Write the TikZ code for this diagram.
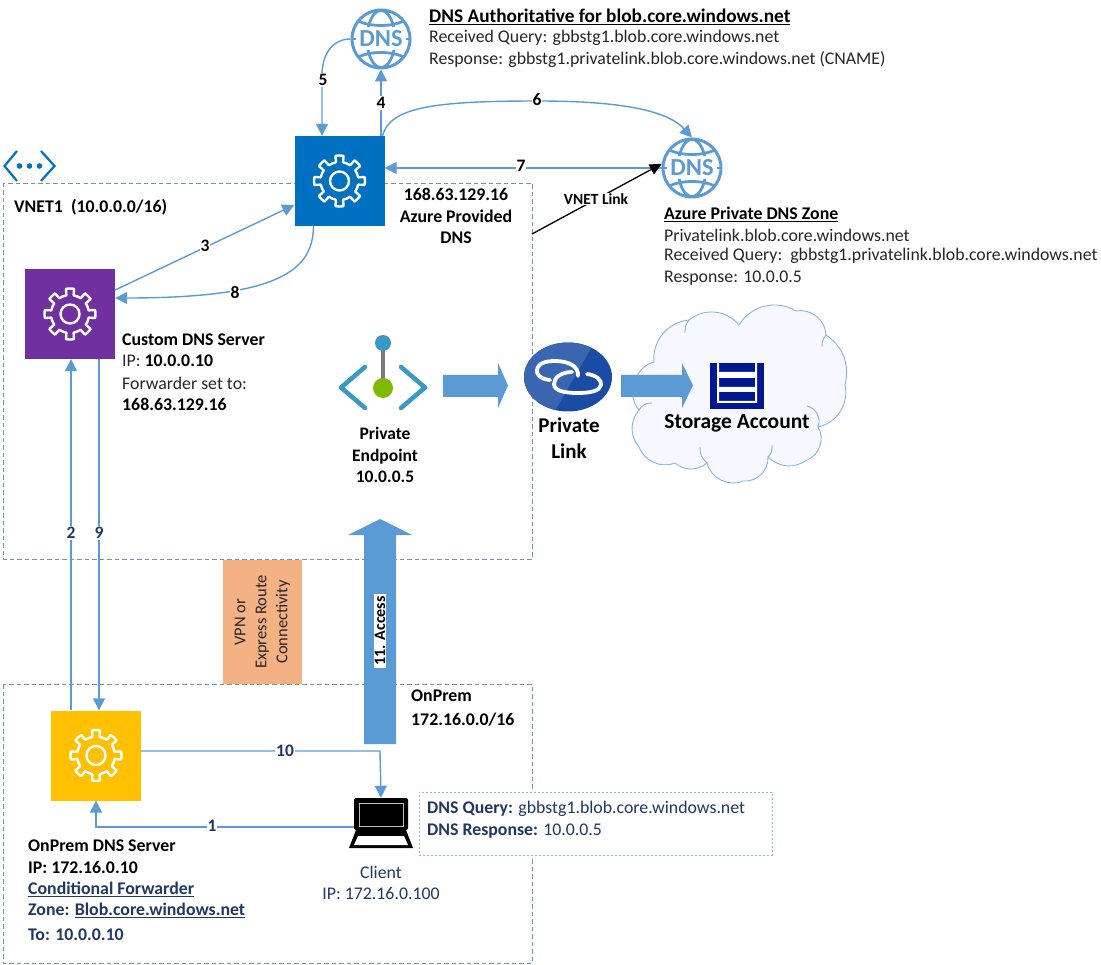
\documentclass[tikz,border=0pt]{standalone}
\usepackage{fontspec}
\setmainfont{Carlito}
\usetikzlibrary{arrows.meta,calc,shapes.geometric}
\definecolor{lineblue}{HTML}{5B9BD5}
\definecolor{azureblue}{HTML}{0070C0}
\definecolor{dnspurple}{HTML}{7030A0}
\definecolor{dnsyellow}{HTML}{FFC000}
\definecolor{navy}{HTML}{1F3864}
\definecolor{dashblue}{HTML}{6F93B5}
\definecolor{orangebox}{HTML}{F4B183}
\definecolor{linkblue}{HTML}{1A4BA5}
\definecolor{linklight}{HTML}{3A65B0}
\definecolor{storeblue}{HTML}{00188F}
\definecolor{pecyan}{HTML}{3999C6}
\definecolor{pegreen}{HTML}{7FBA00}
\definecolor{pegray}{HTML}{7A7A7A}
\newcommand{\geargfx}[2]{%
  \begin{scope}[shift={(#1,#2)},y=1pt,white,line width=2.4pt,line join=round,line cap=round]
    \foreach \a in {0,45,...,315}{
      \draw ({\a-22.5}:19) arc[start angle=\a-22.5,end angle=\a-11,radius=19]
        -- ({\a-9}:25.5) arc[start angle=\a-9,end angle=\a+9,radius=25.5]
        -- ({\a+11}:19) arc[start angle=\a+11,end angle=\a+22.5,radius=19];
    }
    \draw (0,0) circle[radius=9.5];
  \end{scope}}
\newcommand{\globegfx}[2]{%
  \begin{scope}[shift={(#1,#2)},y=1pt,lineblue,line width=2.8pt]
    \draw (0,0) ellipse[x radius=14,y radius=28.5];
    \draw (-23,18) .. controls (-10,12) and (10,12) .. (23,18);
    \draw (-23,-18) .. controls (-10,-12) and (10,-12) .. (23,-18);
    \fill[white] (-24.5,-11.5) rectangle (24.5,11.5);
    \draw (-29,0) -- (-25,0);
    \draw (29,0) -- (25,0);
  \end{scope}}
\tikzset{
  flow/.style={draw=lineblue,line width=1.4pt,-{Triangle[width=12pt,length=12pt]}},
  flowplain/.style={draw=lineblue,line width=1.4pt},
  boundary/.style={draw=dashblue,line width=0.9pt,dash pattern=on 4.5pt off 3pt},
  fatarrow/.style={fill=lineblue,draw=none},
  iconbox/.style={minimum width=90pt,minimum height=90pt,inner sep=0pt,draw=none},
  stepnum/.style={font=\fontsize{17.5}{17.5}\selectfont\bfseries,fill=white,inner sep=1pt,text=black},
  stepnavy/.style={stepnum,text=navy},
  info/.style={anchor=west,inner sep=0pt,font=\fontsize{17.8}{17.8}\selectfont,text=black!85},
  infobold/.style={info,font=\fontsize{17.8}{17.8}\selectfont\bfseries,text=black},
  infonavy/.style={info,text=navy},
  infonavybold/.style={infonavy,font=\fontsize{17.8}{17.8}\selectfont\bfseries},
  center block/.style={inner sep=0pt,align=center,font=\fontsize{17.8}{21.5}\selectfont\bfseries,text=black},
  globenode/.style={circle,draw=lineblue,line width=3pt,minimum size=58pt,inner sep=0pt},
  dnstext/.style={text=lineblue,inner sep=0pt,font=\fontsize{24.5}{24.5}\selectfont\bfseries},
  cloudline/.style={draw=lineblue!75,line width=0.9pt},
}
\begin{document}
\begin{tikzpicture}[x=1pt,y=-1pt]
\useasboundingbox (0,0) rectangle (1101,965);

% boundaries
\draw[boundary] (3,183) rectangle (532,559);
\draw[boundary] (3,684) rectangle (532,963);

% vnet icon
\begin{scope}[draw=azureblue,line width=2.2pt]
  \draw (17,151) -- (4.5,166) -- (17,181);
  \draw (41,151) -- (54.5,166) -- (41,181);
  \fill[azureblue] (19.5,166) circle[radius=2.8] (29.5,166) circle[radius=2.8] (39.5,166) circle[radius=2.8];
\end{scope}

% cloud
\draw[cloudline,fill=blue!3]
  (654,362) to[bend left=45] (689,320) to[bend left=45] (739,325) to[bend left=45] (796,311)
  to[bend left=50] (826,335) to[bend left=35] (845,385) to[bend left=45] (818,427)
  to[bend left=50] (807,460) to[bend left=40] (768,457) to[bend left=50] (743,481)
  to[bend left=50] (707,463) to[bend left=40] (675,463) to[bend left=45] (639,447)
  to[bend left=40] (639,410) to[bend left=60] (654,362) -- cycle;
\draw[cloudline] (807,406) to[bend left=50] (818,427);
\draw[cloudline] (639,410) to[bend left=30] (652,403);
\draw[cloudline] (707,463) to[bend left=25] (700,447);
\draw[cloudline] (768,457) to[bend right=25] (772,445);
\draw[cloudline] (826,335) to[bend right=20] (822,347);
\draw[cloudline] (689,320) to[bend right=20] (685,333);

% orange box
\node[fill=orangebox,minimum width=79pt,minimum height=124pt,inner sep=0pt] (vpnbox) at (262.5,622) {};
\node[rotate=90,align=center,inner sep=0pt,font=\fontsize{16.5}{21}\selectfont,text=black!85] (vpntext) at (262.5,622) {VPN or\\Express Route\\Connectivity};

% service boxes
\node[iconbox,fill=azureblue] (azdns) at (339.5,181) {};
\node[iconbox,fill=dnspurple] (custom) at (70,314) {};
\node[iconbox,fill=dnsyellow] (onpremdns) at (96,755.5) {};
\geargfx{339.5}{181}
\geargfx{70}{314}
\geargfx{96}{755.5}

% globes
\node[globenode] (authdns) at (381,39) {};
\globegfx{381}{39}
\node[dnstext] (authlabel) at (381,39) {DNS};
\node[globenode] (zonedns) at (692,168) {};
\globegfx{692}{168}
\node[dnstext] (zonelabel) at (692,168) {DNS};

% private endpoint icon
\draw[draw=pegray,line width=4pt] (383,343) -- (383,388);
\fill[fill=pecyan] (383,343) circle[radius=8];
\fill[fill=pegreen] (383,388) circle[radius=10];
\draw[draw=pecyan,line width=4.5pt,line cap=round,line join=round] (365,367) -- (341,387.5) -- (365,408);
\draw[draw=pecyan,line width=4.5pt,line cap=round,line join=round] (401,367) -- (425,387.5) -- (401,408);

% private link
\node[ellipse,fill=linkblue,minimum width=88pt,minimum height=69pt,inner sep=0pt] (plink) at (568,377) {};
\begin{scope}
  \clip (520,340) -- (596,340) -- (553,414) -- (520,414) -- cycle;
  \fill[linklight] (568,377) ellipse[x radius=44,y radius=34.5];
\end{scope}
\draw[white,line width=3.8pt,line cap=round] (550,380) .. controls (540,379) and (536,374) .. (537,370) .. controls (538,363) and (546,361) .. (555,361) .. controls (568,361) and (579,366) .. (578,376);
\draw[white,line width=3.8pt,line cap=round] (587,374) .. controls (596,375) and (602,380) .. (601,385) .. controls (600,391) and (590,393) .. (578,393) .. controls (565,393) and (554,391) .. (554,384) .. controls (554,377) and (562,372) .. (572,372);

% storage icon
\node[minimum width=54pt,minimum height=46pt,inner sep=0pt,fill=storeblue] (storage) at (737,386) {};
\fill[white] (717,363) rectangle (719,403) (755,363) rectangle (757,403) (717,401) rectangle (757,403);
\fill[white] (719,372) rectangle (755,378) (719,387) rectangle (755,392);

% fat arrows
\fill[fatarrow] (443,375) -- (498,375) -- (498,363) -- (508,385.5) -- (498,408) -- (498,397) -- (443,397) -- cycle;
\fill[fatarrow] (621,375) -- (682,375) -- (682,363) -- (693,385.5) -- (682,408) -- (682,397) -- (621,397) -- cycle;
\fill[fatarrow] (364,744) -- (364,535) -- (348,535) -- (380,519) -- (412,535) -- (396,535) -- (396,744) -- cycle;
\node[rotate=90,fill=white,inner xsep=2pt,inner ysep=0.5pt,font=\fontsize{16}{16}\selectfont\bfseries,text=black] (accesslabel) at (380,631) {11. Access};

% laptop
\node[minimum width=54pt,minimum height=32pt,inner sep=0pt,fill=black,rounded corners=2pt] (client) at (381,814) {};
\draw[white!75!black,line width=0.8pt] (359,803) rectangle (403,826);
\fill[black] (356,830) -- (406,830) -- (413,848) -- (349,848) -- cycle;
\fill[white] (358,836) -- (404,836) -- (408,845) -- (354,845) -- cycle;

% dashed info box
\node[draw=lineblue!70,dash pattern=on 2pt off 2pt,line width=0.7pt,fill=white,minimum width=353pt,minimum height=63pt,inner sep=0pt] (clientinfo) at (595.5,823.5) {};

% connectors
\draw[flow] ([xshift=41.5pt]azdns.north) -- (authdns.south);
\draw[flow] (authdns.west) .. controls (332,39) and (322,55) .. (322,75) -- ([xshift=-17.5pt]azdns.north);
\draw[flow] ([xshift=43pt]azdns.north) .. controls (390,108) and (430,101) .. (537,101) .. controls (610,101) and (665,108) .. (zonedns.north);
\draw[flow] (zonedns.west) -- (zonedns.west -| azdns.east);
\draw[flow] ([yshift=24pt]custom.east) -- ([yshift=-24pt]azdns.west);
\draw[flow] ([xshift=-26pt]azdns.south) .. controls (313,270) and (280,298) .. ([yshift=16pt]custom.east);
\draw[flow] ([xshift=-25pt]onpremdns.north) -- ([xshift=1pt]custom.south);
\draw[flow] ([xshift=29pt]custom.south) -- ([xshift=3pt]onpremdns.north);
\draw[flow] ([yshift=4.5pt]onpremdns.east) -- (380,751) -- (client.north);
\draw[flow] ([yshift=-13pt]client.west) -- (96,827) -- (onpremdns.south);
\draw[draw=black,line width=1.3pt,-{Triangle[width=11pt,length=12pt]}] (532,234) -- (zonedns.172);

% step labels
\node[stepnum] (n4) at (381,103) {4};
\node[stepnum] (n5) at (323,80) {5};
\node[stepnum] (n6) at (537,100) {6};
\node[stepnum] (n7) at (521,166) {7};
\node[stepnum] (n3) at (205,246) {3};
\node[stepnum] (n8) at (235,293) {8};
\node[stepnavy] (n2) at (71,533) {2};
\node[stepnavy] (n9) at (99,533) {9};
\node[stepnavy] (n10) at (285,751) {10};
\node[stepnavy] (n1) at (212,826) {1};
\node[fill=white,inner sep=1pt,font=\fontsize{15.5}{15.5}\selectfont\bfseries,text=black] (vnetlink) at (596,199) {VNET Link};

% text blocks
\node[infobold,font=\fontsize{19.3}{19.3}\selectfont\bfseries] (t1) at (429,17) {\underline{DNS Authoritative for blob.core.windows.net}};
\node[info] (t2) at (429,38) {Received Query: gbbstg1.blob.core.windows.net};
\node[info] (t3) at (429,60) {Response: gbbstg1.privatelink.blob.core.windows.net (CNAME)};

\node[infobold] (z1) at (664,214) {\underline{Azure Private DNS Zone}};
\node[info] (z2) at (664,235) {Privatelink.blob.core.windows.net};
\node[info] (z3) at (664,256) {Received Query:\ \ gbbstg1.privatelink.blob.core.windows.net};
\node[info] (z4) at (664,278) {Response: 10.0.0.5};

\node[center block] (azlabel) at (456,216) {168.63.129.16\\Azure Provided\\DNS};
\node[infobold] (vnetname) at (14,207) {VNET1\ \ (10.0.0.0/16)};

\node[infobold] (c1) at (122,340) {Custom DNS Server};
\node[info] (c2) at (122,361) {IP: \textbf{\textcolor{black}{10.0.0.10}}};
\node[info] (c3) at (122,383) {Forwarder set to:};
\node[infobold] (c4) at (122,404) {168.63.129.16};

\node[center block,font=\fontsize{17.5}{21.5}\selectfont\bfseries] (pelabel) at (385,455) {Private\\Endpoint\\10.0.0.5};
\node[center block,font=\fontsize{21}{26}\selectfont\bfseries] (pllabel) at (569,438) {Private\\Link};
\node[center block,font=\fontsize{21.5}{21.5}\selectfont\bfseries] (salabel) at (737,423) {Storage Account};

\node[infobold] (o1) at (411,696) {OnPrem};
\node[infobold] (o2) at (411,720) {172.16.0.0/16};

\node[infobold] (d1) at (28,846) {OnPrem DNS Server};
\node[infobold] (d2) at (28,867) {IP: 172.16.0.10};
\node[infonavybold] (d3) at (28,889) {\underline{Conditional Forwarder}};
\node[infonavybold] (d4) at (28,910) {Zone: \underline{Blob.core.windows.net}};
\node[infonavybold] (d5) at (28,935) {To: 10.0.0.10};

\node[inner sep=0pt,align=center,text=navy,font=\fontsize{17.8}{21.5}\selectfont] (clabel) at (381,883) {Client\\IP: 172.16.0.100};
\node[infonavy] (q1) at (427,809) {\textbf{DNS Query:} gbbstg1.blob.core.windows.net};
\node[infonavy] (q2) at (427,831) {\textbf{DNS Response:} 10.0.0.5};
\end{tikzpicture}
\end{document}
